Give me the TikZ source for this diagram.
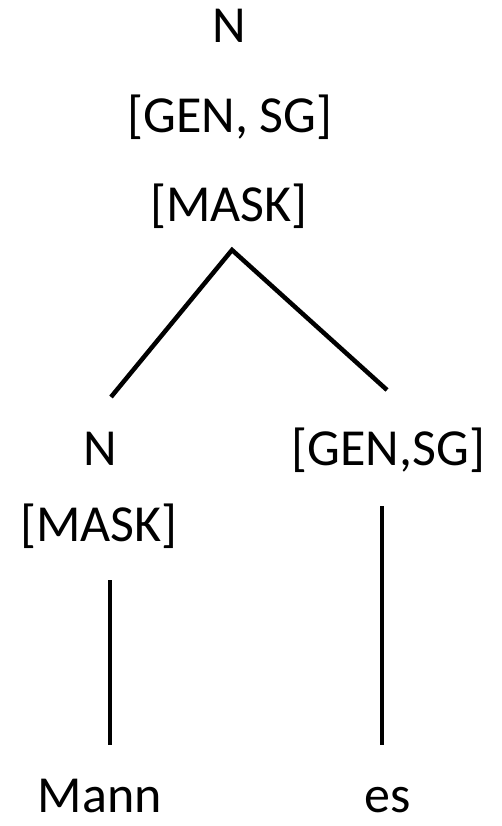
\documentclass[tikz,border=0pt]{standalone}
\usepackage{fontspec}
\setmainfont{Carlito}

\begin{document}
\begin{tikzpicture}[x = 1pt, y = 1pt]
\tikzstyle{LabelStyle}=[anchor = base,
                        inner sep = 0pt,
                        font = \fontsize{52}{62}\selectfont]
\tikzstyle{WordStyle}=[LabelStyle, text depth = 0pt]
\tikzstyle{EdgeStyle}=[line width = 4.5pt]
\useasboundingbox (0,0) rectangle (502,-826);
% top of the tree
\node[LabelStyle] (n0) at (229.5,-43) {N};
\node[LabelStyle] (f0) at (230,-133) {[GEN, SG]};
\node[LabelStyle] (m0) at (229,-222) {[MASK]};
% daughters
\node[LabelStyle] (n1) at (100,-465) {N};
\node[LabelStyle] (m1) at (99,-541) {[MASK]};
\node[LabelStyle] (f1) at (388.5,-465) {[GEN,SG]};
% words
\node[WordStyle] (w1) at (100,-812) {Mann};
\node[WordStyle] (w2) at (387.5,-812) {es};
\coordinate (apex) at (232,-250);
\coordinate (l0) at (111,-397);
\coordinate (r0) at (387,-390);
\coordinate (l1) at (110,-580);
\coordinate (l2) at (110,-745);
\coordinate (r1) at (382,-506);
\coordinate (r2) at (382,-745);
\draw[EdgeStyle] (l0) -- (apex) -- (r0);
\draw[EdgeStyle] (l1) -- (l2);
\draw[EdgeStyle] (r1) -- (r2);
\end{tikzpicture}
\end{document}
